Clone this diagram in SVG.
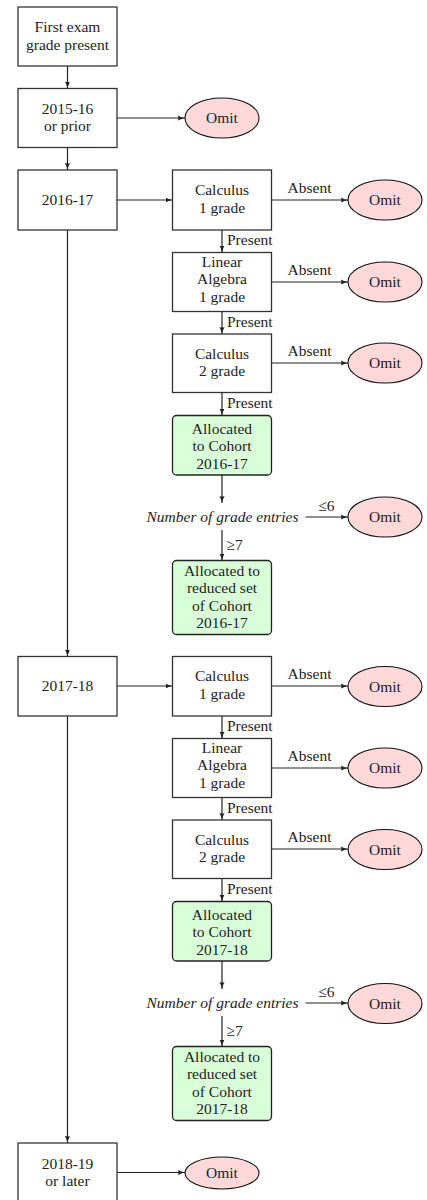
<svg xmlns="http://www.w3.org/2000/svg" width="427" height="1200" viewBox="0 0 427 1200">
<style>
text{font-family:"Liberation Serif","Times New Roman",serif;font-size:15.5px;fill:#222;text-anchor:middle}
.box{fill:#fff;stroke:#333;stroke-width:1.3}
.ok{fill:#d9ffd9;stroke:#222;stroke-width:1.3}
.omit{fill:#ffd9d9;stroke:#111;stroke-width:1.1}
.c{stroke:#222;stroke-width:1.2;fill:none;marker-end:url(#ah)}
.lbl{text-anchor:start}
.it{font-style:italic}
</style>
<defs>
<marker id="ah" viewBox="0 0 7 6" refX="7" refY="3" markerWidth="7" markerHeight="6" markerUnits="userSpaceOnUse" orient="auto">
<path d="M0,0.4 Q3.5,2.4 7,3 Q3.5,3.6 0,5.6 Q1,3 0,0.4 Z" fill="#222"/>
</marker>
</defs>
<rect width="427" height="1200" fill="#fff"/>

<g id="connectors">
<line class="c" x1="67.5" y1="66" x2="67.5" y2="88.5"/>
<line class="c" x1="67.5" y1="147.5" x2="67.5" y2="170"/>
<line class="c" x1="67.5" y1="230" x2="67.5" y2="656.5"/>
<line class="c" x1="67.5" y1="716" x2="67.5" y2="1143"/>
<line class="c" x1="117" y1="118" x2="185" y2="118"/>
<line class="c" x1="117" y1="200" x2="172.5" y2="200"/>
<line class="c" x1="117" y1="686" x2="172.5" y2="686"/>
<line class="c" x1="117" y1="1172.5" x2="185" y2="1172.5"/>
<!-- set 1 -->
<line class="c" x1="271.5" y1="200" x2="348" y2="200"/>
<line class="c" x1="271.5" y1="282" x2="348" y2="282"/>
<line class="c" x1="271.5" y1="363" x2="348" y2="363"/>
<line class="c" x1="222" y1="230" x2="222" y2="252.5"/>
<line class="c" x1="222" y1="311.5" x2="222" y2="334"/>
<line class="c" x1="222" y1="392.5" x2="222" y2="415.5"/>
<line class="c" x1="222" y1="475" x2="222" y2="503"/>
<line class="c" x1="305.5" y1="517" x2="348" y2="517"/>
<line class="c" x1="222" y1="530" x2="222" y2="560.5"/>
<!-- set 2 -->
<line class="c" x1="271.5" y1="686" x2="348" y2="686"/>
<line class="c" x1="271.5" y1="768" x2="348" y2="768"/>
<line class="c" x1="271.5" y1="849" x2="348" y2="849"/>
<line class="c" x1="222" y1="716" x2="222" y2="738.5"/>
<line class="c" x1="222" y1="797.5" x2="222" y2="820"/>
<line class="c" x1="222" y1="878.5" x2="222" y2="901.5"/>
<line class="c" x1="222" y1="961" x2="222" y2="989"/>
<line class="c" x1="305.5" y1="1003" x2="348" y2="1003"/>
<line class="c" x1="222" y1="1016" x2="222" y2="1046.5"/>
<!-- labels -->
<text x="309.5" y="193">Absent</text>
<text x="309.5" y="275">Absent</text>
<text x="309.5" y="356">Absent</text>
<text class="lbl" x="227" y="245">Present</text>
<text class="lbl" x="227" y="327">Present</text>
<text class="lbl" x="227" y="408">Present</text>
<text x="326.5" y="511">≤6</text>
<text class="lbl" x="226.5" y="550">≥7</text>
<text x="309.5" y="679">Absent</text>
<text x="309.5" y="761">Absent</text>
<text x="309.5" y="842">Absent</text>
<text class="lbl" x="227" y="731">Present</text>
<text class="lbl" x="227" y="813">Present</text>
<text class="lbl" x="227" y="894">Present</text>
<text x="326.5" y="997">≤6</text>
<text class="lbl" x="226.5" y="1036">≥7</text>
</g>

<g id="first-exam"><rect class="box" x="18" y="7" width="99" height="59"/><text x="67.5" y="32">First exam</text><text x="67.5" y="49.5">grade present</text></g>
<g id="y2015"><rect class="box" x="18" y="88.5" width="99" height="59"/><text x="67.5" y="113.5">2015-16</text><text x="67.5" y="131">or prior</text></g>
<g id="omit-2015"><ellipse class="omit" cx="222" cy="118" rx="37" ry="20"/><text x="222" y="123">Omit</text></g>
<g id="y2016"><rect class="box" x="18" y="170" width="99" height="60"/><text x="67.5" y="205">2016-17</text></g>
<g id="y2017"><rect class="box" x="18" y="656.5" width="99" height="59.5"/><text x="67.5" y="691">2017-18</text></g>
<g id="y2018"><rect class="box" x="18" y="1143" width="99" height="59"/><text x="67.5" y="1169">2018-19</text><text x="67.5" y="1186">or later</text></g>
<g id="omit-2018"><ellipse class="omit" cx="222" cy="1173" rx="37" ry="16"/><text x="222" y="1178">Omit</text></g>

<!-- set 1 -->
<g id="calc1-a"><rect class="box" x="172.5" y="170" width="99" height="60"/><text x="222" y="195">Calculus</text><text x="222" y="212.5">1 grade</text></g>
<g id="omit-calc1-a"><ellipse class="omit" cx="385" cy="200" rx="37" ry="20"/><text x="385" y="205">Omit</text></g>
<g id="linalg-a"><rect class="box" x="172.5" y="252.5" width="99" height="59"/><text x="222" y="266.5">Linear</text><text x="222" y="284">Algebra</text><text x="222" y="301.5">1 grade</text></g>
<g id="omit-linalg-a"><ellipse class="omit" cx="385" cy="282" rx="37" ry="20"/><text x="385" y="287">Omit</text></g>
<g id="calc2-a"><rect class="box" x="172.5" y="334" width="99" height="58.5"/><text x="222" y="358.5">Calculus</text><text x="222" y="375.5">2 grade</text></g>
<g id="omit-calc2-a"><ellipse class="omit" cx="385" cy="363" rx="37" ry="20"/><text x="385" y="368">Omit</text></g>
<g id="cohort-a"><rect class="ok" x="172.5" y="415.5" width="99" height="59.5" rx="4"/><text x="222" y="433.5">Allocated</text><text x="222" y="451">to Cohort</text><text x="222" y="468.5">2016-17</text></g>
<g id="entries-a"><text class="it" x="222.5" y="521.5">Number of grade entries</text></g>
<g id="omit-entries-a"><ellipse class="omit" cx="385" cy="517" rx="37" ry="20"/><text x="385" y="522">Omit</text></g>
<g id="reduced-a"><rect class="ok" x="172.5" y="560.5" width="99" height="74" rx="4"/><text x="222" y="575.5">Allocated to</text><text x="222" y="593">reduced set</text><text x="222" y="610.5">of Cohort</text><text x="222" y="628">2016-17</text></g>

<!-- set 2 -->
<g id="calc1-b"><rect class="box" x="172.5" y="656.5" width="99" height="59.5"/><text x="222" y="681">Calculus</text><text x="222" y="698.5">1 grade</text></g>
<g id="omit-calc1-b"><ellipse class="omit" cx="385" cy="686.5" rx="37" ry="20"/><text x="385" y="691.5">Omit</text></g>
<g id="linalg-b"><rect class="box" x="172.5" y="738.5" width="99" height="59"/><text x="222" y="752.5">Linear</text><text x="222" y="770">Algebra</text><text x="222" y="787.5">1 grade</text></g>
<g id="omit-linalg-b"><ellipse class="omit" cx="385" cy="768" rx="37" ry="20"/><text x="385" y="773">Omit</text></g>
<g id="calc2-b"><rect class="box" x="172.5" y="820" width="99" height="58.5"/><text x="222" y="844.5">Calculus</text><text x="222" y="861.5">2 grade</text></g>
<g id="omit-calc2-b"><ellipse class="omit" cx="385" cy="849.5" rx="37" ry="20"/><text x="385" y="854.5">Omit</text></g>
<g id="cohort-b"><rect class="ok" x="172.5" y="901.5" width="99" height="59.5" rx="4"/><text x="222" y="919.5">Allocated</text><text x="222" y="937">to Cohort</text><text x="222" y="954.5">2017-18</text></g>
<g id="entries-b"><text class="it" x="222.5" y="1007.5">Number of grade entries</text></g>
<g id="omit-entries-b"><ellipse class="omit" cx="385" cy="1003.5" rx="37" ry="20"/><text x="385" y="1008.5">Omit</text></g>
<g id="reduced-b"><rect class="ok" x="172.5" y="1046.5" width="99" height="74" rx="4"/><text x="222" y="1061.5">Allocated to</text><text x="222" y="1079">reduced set</text><text x="222" y="1096.5">of Cohort</text><text x="222" y="1114">2017-18</text></g>
</svg>
